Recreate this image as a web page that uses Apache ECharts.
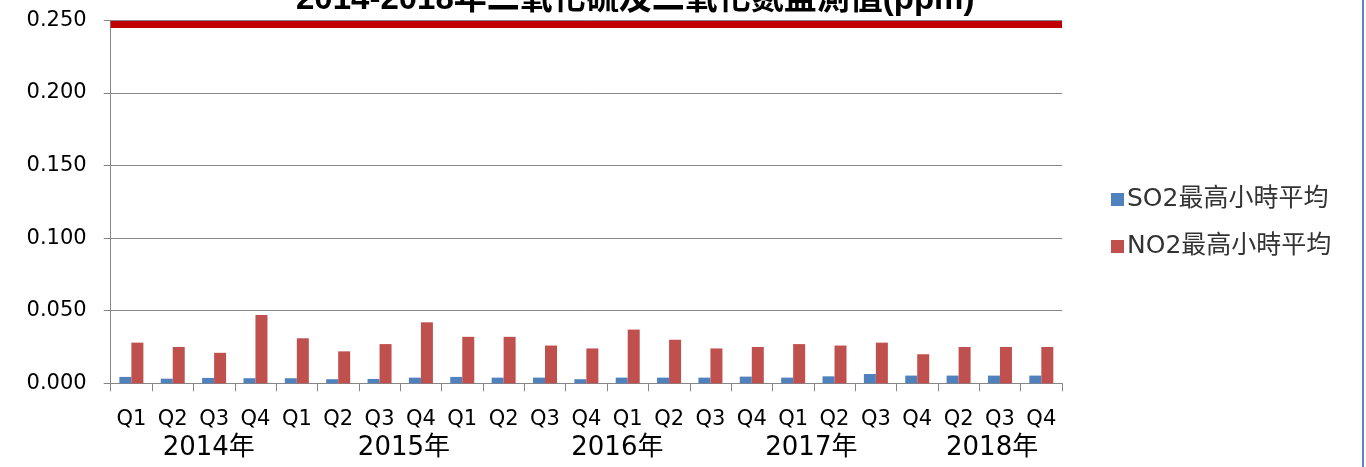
<!DOCTYPE html>
<html>
<head>
<meta charset="utf-8">
<script src="https://cdn.jsdelivr.net/npm/echarts@6/dist/echarts.min.js"></script>
<style>
  html, body { margin: 0; padding: 0; background: #fff; }
  #chart { width: 1366px; height: 467px; }
</style>
</head>
<body>
<div id="chart"></div>
<script>
// quarters along the x axis (2018 Q1 is missing in the source)
const quarters = ['Q1', 'Q2', 'Q3', 'Q4', 'Q1', 'Q2', 'Q3', 'Q4', 'Q1', 'Q2', 'Q3', 'Q4',
  'Q1', 'Q2', 'Q3', 'Q4', 'Q1', 'Q2', 'Q3', 'Q4', 'Q2', 'Q3', 'Q4'];
const years = ['2014年', '2015年', '2016年', '2017年', '2018年'];
// where each year label sits, in category units
const yearLabelAt = [2.37, 7.09, 12.25, 16.94, 21.31];

const so2 = [0.0044, 0.0032, 0.0037, 0.0035, 0.0035, 0.0028, 0.0030, 0.0039,
  0.0044, 0.0039, 0.0039, 0.0028, 0.0039, 0.0039, 0.0039, 0.0046,
  0.0039, 0.0048, 0.0064, 0.0053, 0.0053, 0.0053, 0.0053];
const no2 = [0.028, 0.025, 0.021, 0.047, 0.031, 0.022, 0.027, 0.042,
  0.032, 0.032, 0.026, 0.024, 0.037, 0.030, 0.024, 0.025,
  0.027, 0.026, 0.028, 0.020, 0.025, 0.025, 0.025];
const limitLine = 0.2471;

const latin = '"DejaVu Sans", "Noto Sans CJK TC", sans-serif';
const gridGray = '#868686';

const chart = echarts.init(document.getElementById('chart'));

const option = {
  animation: false,
  title: {
    text: '2014-2018年二氧化硫及二氧化氮監測值(ppm)',
    left: 291,
    top: -22,
    textStyle: {
      fontFamily: '"Liberation Sans", "Noto Sans CJK TC", sans-serif',
      fontSize: 33,
      fontWeight: 'bold',
      color: '#000',
    },
  },
  legend: {
    orient: 'vertical',
    left: 1106,
    top: 182,
    itemWidth: 13,
    itemHeight: 13,
    itemGap: 22,
    itemStyle: { borderWidth: 0 },
    icon: 'rect',
    textStyle: { fontFamily: latin, fontSize: 25, color: '#333', padding: [0, 0, 0, -2] },
  },
  grid: { left: 110.7, right: 304, top: 20.3, bottom: 83.7, containLabel: false },
  xAxis: [
    {
      type: 'category',
      data: quarters,
      axisLine: { lineStyle: { color: gridGray, width: 1 } },
      axisTick: { show: true, length: 8, lineStyle: { color: gridGray } },
      axisLabel: { fontFamily: latin, fontSize: 21, color: '#000', margin: 26, interval: 0 },
    },
    {
      type: 'value',
      position: 'bottom',
      min: 0,
      max: quarters.length,
      axisLine: { show: false },
      axisTick: { show: false },
      splitLine: { show: false },
      axisLabel: {
        customValues: yearLabelAt,
        formatter: (v) => years[yearLabelAt.indexOf(v)] || '',
        fontFamily: latin,
        fontSize: 26,
        color: '#000',
        margin: 52,
      },
    },
  ],
  yAxis: {
    type: 'value',
    min: 0,
    max: 0.25,
    interval: 0.05,
    axisLine: { show: true, lineStyle: { color: gridGray, width: 1 } },
    axisTick: { show: true, length: 7, lineStyle: { color: gridGray } },
    splitLine: { lineStyle: { color: gridGray, width: 1 } },
    axisLabel: {
      fontFamily: latin,
      fontSize: 21,
      color: '#000',
      margin: 24,
      formatter: (v) => v.toFixed(3),
    },
  },
  series: [
    {
      name: 'SO2最高小時平均',
      type: 'bar',
      data: so2,
      barWidth: 12,
      barGap: '0%',
      itemStyle: { color: '#4F81BD' },
    },
    {
      name: 'NO2最高小時平均',
      type: 'bar',
      data: no2,
      barWidth: 12,
      barGap: '0%',
      itemStyle: { color: '#C0504D' },
      markLine: {
        silent: true,
        symbol: 'none',
        precision: 4,
        label: { show: false },
        lineStyle: { color: '#C00000', width: 7, type: 'solid' },
        data: [{ yAxis: limitLine }],
      },
    },
  ],
  graphic: [
    {
      type: 'rect',
      shape: { x: 1362, y: 0, width: 2, height: 467 },
      style: { fill: '#5B86C5' },
      silent: true,
    },
  ],
};

chart.setOption(option);
window.addEventListener('resize', () => {
  chart.resize();
});
</script>
</body>
</html>
